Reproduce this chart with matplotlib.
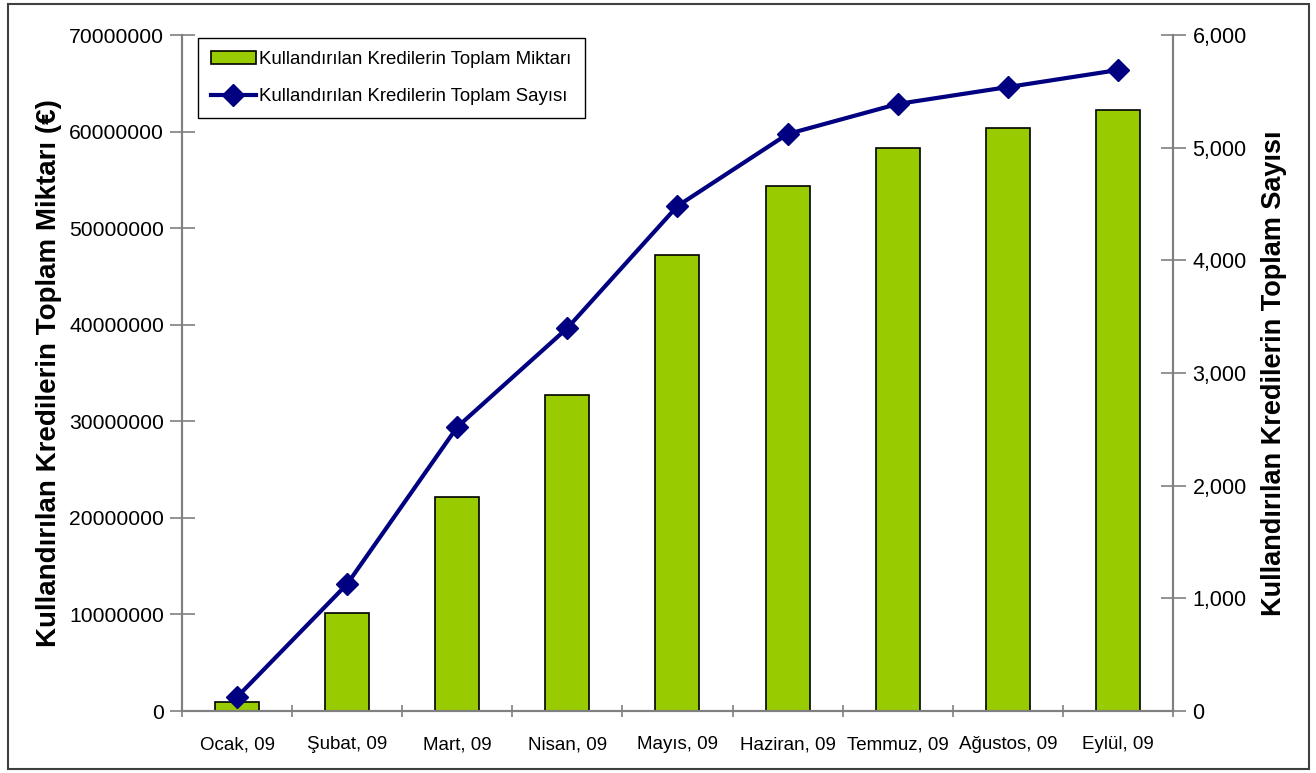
import matplotlib
matplotlib.use("Agg")
import matplotlib.pyplot as plt
from matplotlib.patches import Rectangle
from matplotlib.ticker import FuncFormatter, FixedLocator

plt.rcParams['font.family'] = ['Liberation Sans', 'DejaVu Sans']

aylar = ['Ocak, 09', 'Şubat, 09', 'Mart, 09', 'Nisan, 09', 'Mayıs, 09',
         'Haziran, 09', 'Temmuz, 09', 'Ağustos, 09', 'Eylül, 09']
miktar = [900000, 10200000, 22200000, 32700000, 47200000,
          54400000, 58300000, 60400000, 62200000]
sayi = [124, 1127, 2521, 3399, 4482, 5121, 5388, 5538, 5689]

gri = '#808080'

fig = plt.figure(figsize=(13.16, 7.73), dpi=100)
ax = fig.add_axes([0.1383, 0.0802, 0.753, 0.8745])
ax2 = ax.twinx()

x = range(len(aylar))
bars = ax.bar(x, miktar, width=0.4, color='#99CC00', edgecolor='black', linewidth=1.2,
              label='Kullandırılan Kredilerin Toplam Miktarı')
line, = ax2.plot(x, sayi, color='#000080', linewidth=3, marker='D', markersize=11,
                 label='Kullandırılan Kredilerin Toplam Sayısı')

ax.set_xlim(-0.5, len(aylar) - 0.5)
ax.set_ylim(0, 70000000)
ax2.set_ylim(0, 6000)
ax.set_yticks(range(0, 70000001, 10000000))
ax2.set_yticks(range(0, 6001, 1000))
ax.yaxis.set_major_formatter(FuncFormatter(lambda v, p: '%d' % v))
ax2.yaxis.set_major_formatter(FuncFormatter(lambda v, p: '{:,}'.format(int(v))))

ax.set_xticks(list(x))
ax.set_xticklabels(aylar, fontsize=13.5)
ax.xaxis.set_minor_locator(FixedLocator([i - 0.5 for i in range(len(aylar) + 1)]))
ax.tick_params(axis='x', which='major', length=0, pad=18)
ax.tick_params(axis='x', which='minor', length=9, direction='inout', color=gri, width=1.2)
ax.tick_params(axis='y', length=18, direction='inout', color=gri, width=1.2, labelsize=15.2, pad=4)
ax2.tick_params(axis='y', length=18, direction='inout', color=gri, width=1.2, labelsize=15.5, pad=5)

for a in (ax, ax2):
    a.spines['top'].set_visible(False)
    for s in ('left', 'right', 'bottom'):
        a.spines[s].set_color(gri)
        a.spines[s].set_linewidth(1.5)

ax.set_ylabel('Kullandırılan Kredilerin Toplam Miktarı (€)', fontsize=20, fontweight='bold', labelpad=5)
ax2.set_ylabel('Kullandırılan Kredilerin Toplam Sayısı', fontsize=19.5, fontweight='bold', labelpad=10)

leg = ax2.legend([bars, line], [bars.get_label(), line.get_label()],
                 loc='upper left', bbox_to_anchor=(0.016, 0.996), fontsize=13.4,
                 frameon=True, fancybox=False, edgecolor='black', borderpad=0.7,
                 labelspacing=1.1, handlelength=2.4, handletextpad=0.2, framealpha=1,
                 borderaxespad=0)
leg.get_frame().set_linewidth(1.0)

fig.patches.append(Rectangle((0.006, 0.005), 0.989, 0.99, transform=fig.transFigure,
                             fill=False, edgecolor='#404040', linewidth=1.5))

plt.savefig('out.png', dpi=100)
